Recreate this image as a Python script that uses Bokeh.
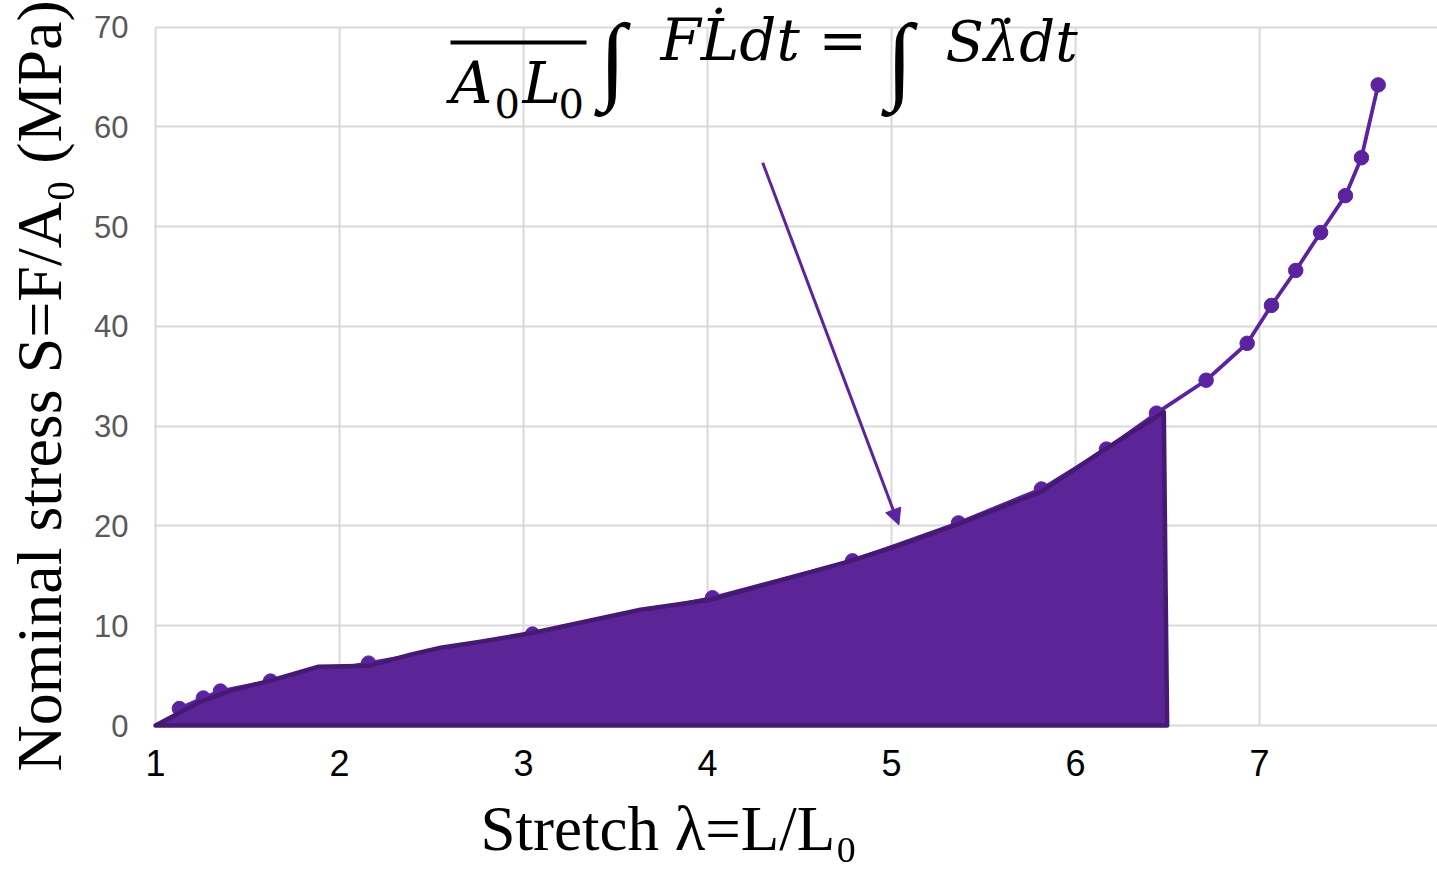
import math
from bokeh.plotting import figure
from bokeh.models import Range1d, FixedTicker, Label, Arrow, NormalHead
from bokeh.embed import file_html
from bokeh.resources import INLINE

# ---- data ----
stretch = [1.13, 1.26, 1.353, 1.625, 2.158, 3.049, 4.027, 4.788, 5.364,
           5.815, 6.168, 6.44, 6.71, 6.933, 7.065, 7.197, 7.332, 7.467, 7.554, 7.645]
stress = [1.7, 2.75, 3.45, 4.45, 6.25, 9.16, 12.8, 16.5, 20.3,
          23.7, 27.7, 31.3, 34.6, 38.3, 42.1, 45.6, 49.4, 53.1, 56.9, 64.2]

# shaded work area (hand-drawn shape under the curve up to lambda ~ 6.5)
area_stretch = [1.0, 1.245, 1.41, 1.625, 1.886, 2.168, 2.386, 2.55, 2.766, 3.054,
                3.636, 4.016, 4.76, 5.05, 5.364, 5.81, 6.136, 6.48, 6.489, 6.498]
area_stress = [0.0, 2.4, 3.5, 4.5, 5.9, 6.0, 7.1, 7.8, 8.4, 9.3,
               11.6, 12.6, 16.4, 18.1, 20.2, 23.4, 27.4, 31.4, 15.0, 0.0]

x_ticks = [1, 2, 3, 4, 5, 6, 7]
y_ticks = [0, 10, 20, 30, 40, 50, 60, 70]

arrow_from = [4.30, 56.4]
arrow_to = [5.04, 20.1]

x_title = "Stretch \u03bb=L/L\u2080"
y_title = "Nominal stress S=F/A\u2080 (MPa)"

PURPLE = "#5C23A0"
FILL = "#5B2598"
EDGE = "#461A73"

W, H = 1437, 870
X1 = 155.0                # pixel column of stretch = 1
PXX = 184.0               # pixels per stretch unit
Y0 = 725.0                # pixel row of stress = 0
PXY = (Y0 - 26.5) / 70.0  # pixels per MPa
x_start = 1 - X1 / PXX
x_end = 1 + (W - X1) / PXX
y_end = Y0 / PXY
y_start = -(H - Y0) / PXY

p = figure(width=W, height=H, x_range=Range1d(x_start, x_end),
           y_range=Range1d(y_start, y_end),
           output_backend="svg", toolbar_location=None,
           min_border_left=0, min_border_right=0, min_border_top=0,
           min_border_bottom=0)
p.outline_line_color = None
p.background_fill_color = "white"
p.border_fill_color = "white"
p.title.visible = False

p.xgrid.ticker = FixedTicker(ticks=x_ticks)
p.ygrid.ticker = FixedTicker(ticks=y_ticks)
for g in (p.xgrid[0], p.ygrid[0]):
    g.grid_line_color = "#d9d9d9"
    g.grid_line_width = 2
p.xgrid[0].cross_bounds = (0, 70)
p.ygrid[0].cross_bounds = (1, x_end)

p.xaxis.ticker = FixedTicker(ticks=x_ticks)
p.yaxis.ticker = FixedTicker(ticks=y_ticks)
p.xaxis[0].fixed_location = 0
p.yaxis[0].fixed_location = 1
for ax in (p.xaxis[0], p.yaxis[0]):
    ax.axis_line_color = None
    ax.major_tick_line_color = None
    ax.minor_tick_line_color = None
    ax.major_tick_out = 0
    ax.major_tick_in = 0
    ax.major_label_text_font = "Liberation Sans"
p.xaxis.major_label_text_font_size = "36px"
p.xaxis.major_label_text_color = "#000000"
p.xaxis.major_label_standoff = 24
p.yaxis.major_label_text_font_size = "31px"
p.yaxis.major_label_text_color = "#595959"
p.yaxis.major_label_standoff = 27

# curve with markers
p.line(stretch, stress, line_color=PURPLE, line_width=3.8)
p.scatter(stretch, stress, size=14.5, fill_color=PURPLE, line_color=PURPLE)

# shaded area on top
p.patch(area_stretch, area_stress, fill_color=FILL, line_color=EDGE, line_width=4.5,
        line_join="round")

# arrow
p.add_layout(Arrow(x_start=arrow_from[0], y_start=arrow_from[1],
                   x_end=arrow_to[0], y_end=arrow_to[1],
                   line_color=PURPLE, line_width=3,
                   end=NormalHead(size=16, fill_color=PURPLE, line_color=PURPLE)))


# helpers: picture pixel position -> data position (text placement only)
def dx(px):
    return 1 + (px - X1) / PXX


def dy(py):
    return (Y0 - py) / PXY


def lab(text, px, py, size, font="DejaVu Serif", style="normal", k=0.345, angle=0.0):
    if angle:
        x, y = dx(px - k * size), dy(py)
    else:
        x, y = dx(px), dy(py - k * size)
    p.add_layout(Label(x=x, y=y, text=text, text_font=font,
                       text_font_size=f"{size}px", text_font_style=style,
                       text_color="#000000", text_align="left", angle=angle,
                       text_baseline="alphabetic"))


# axis titles
lab(y_title, 58, 771, 64, font="Liberation Serif", k=0.3, angle=math.pi / 2)
lab(x_title, 480, 847, 63, font="Liberation Serif", k=0.3)

# equation  1/(A0 L0) * int F Ldot dt = int S lambdadot dt
p.segment(x0=[dx(450)], y0=[dy(42)], x1=[dx(586)], y1=[dy(42)],
          line_color="black", line_width=4)
lab("A", 450, 103, 58, style="italic")
lab("0", 494, 117, 40)
lab("L", 522, 103, 58, style="italic")
lab("0", 558, 117, 40)
lab("\u222b", 599, 87, 97, font="Liberation Serif", k=0.3)
lab("FL\u0307dt", 660, 60, 58, style="italic")
lab("=", 818, 60, 58)
lab("\u222b", 886, 87, 97, font="Liberation Serif", k=0.3)
lab("S\u03bb\u0307dt", 945, 60, 56, style="italic")

open("out.html", "w").write(file_html(p, INLINE))
